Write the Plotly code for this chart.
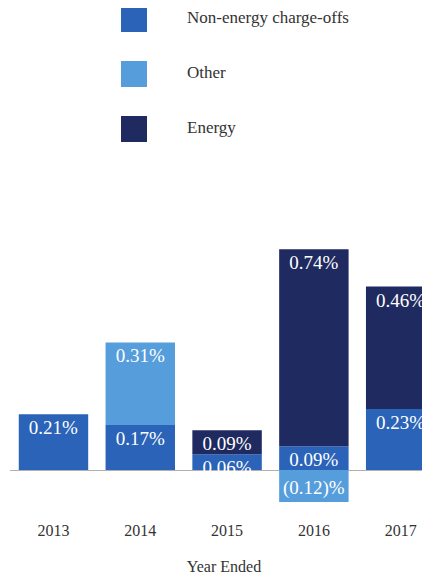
import plotly.graph_objects as go

years = ["2013", "2014", "2015", "2016", "2017"]
series_names = ["Non-energy charge-offs", "Other", "Energy"]
non_energy = [0.21, 0.17, 0.06, 0.09, 0.23]
other = [None, 0.31, None, -0.12, None]
energy = [None, None, 0.09, 0.74, 0.46]
colors = ["#2a63b8", "#569ddc", "#1f2a60"]


def fmt(v):
    if v is None:
        return ""
    if v < 0:
        return "({:.2f})%".format(abs(v))
    return "{:.2f}%".format(v)


FONT = "Liberation Serif"
fig = go.Figure()
for name, vals, col in zip(series_names, [non_energy, other, energy], colors):
    fig.add_trace(go.Bar(
        x=years, y=vals, name=name, marker=dict(color=col, line=dict(width=0)),
        text=[fmt(v) for v in vals], textposition="inside", insidetextanchor="end",
        constraintext="none", textangle=0,
        textfont=dict(family=FONT, size=19, color="white"),
        showlegend=False, hoverinfo="skip",
    ))

# custom legend drawn on a hidden axis pair
idx = list(range(len(series_names)))
fig.add_trace(go.Scatter(
    x=[0] * len(idx), y=idx, mode="markers", xaxis="x2", yaxis="y2",
    marker=dict(symbol="square", size=26, color=colors, line=dict(width=0)),
    showlegend=False, hoverinfo="skip",
))
fig.add_trace(go.Scatter(
    x=[1] * len(idx), y=idx, mode="text", xaxis="x2", yaxis="y2",
    text=series_names, textposition="middle right",
    textfont=dict(family=FONT, size=17, color="#333333"),
    showlegend=False, hoverinfo="skip",
))

fig.update_layout(
    width=430, height=579, barmode="relative", bargap=0.2,
    margin=dict(l=2, r=0, t=0, b=77),
    plot_bgcolor="white", paper_bgcolor="white",
    xaxis=dict(range=[-0.501, 4.43], showgrid=False, showline=False, ticks="",
               ticklabelstandoff=9,
               tickfont=dict(family=FONT, size=16, color="#333333"),
               title=dict(text="Year Ended", font=dict(family=FONT, size=16, color="#333333"), standoff=22),
               anchor="y", fixedrange=True),
    yaxis=dict(domain=[0, 0.5378], range=[-0.150, 0.865], showgrid=False, showticklabels=False,
               zeroline=True, zerolinecolor="#b0b0b0", zerolinewidth=1, showline=False, ticks=""),
    xaxis2=dict(domain=[0, 1], range=[-2.34, 5.736], visible=False, anchor="y2"),
    yaxis2=dict(domain=[0.6, 1], range=[3.451, -0.2], visible=False, anchor="x2"),
)

fig.write_html("out.html")
